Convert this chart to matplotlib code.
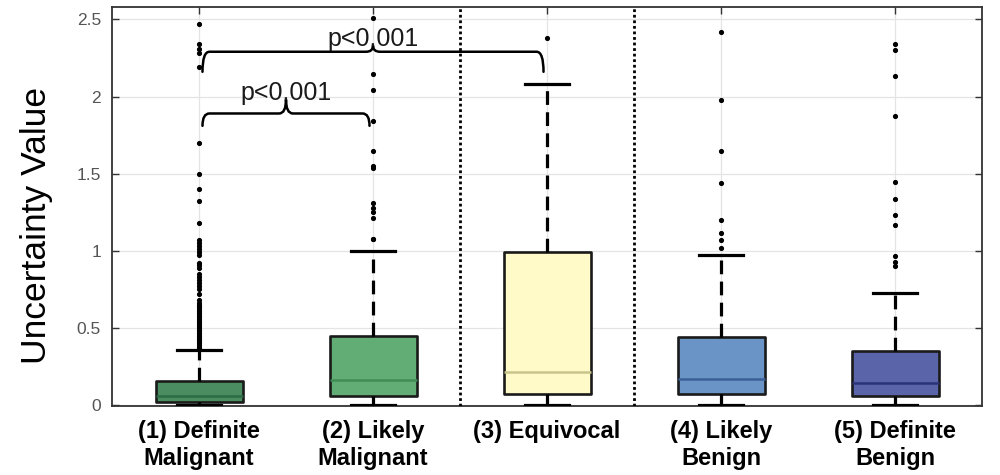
import matplotlib
matplotlib.use("Agg")
import matplotlib.pyplot as plt
from matplotlib.path import Path
from matplotlib.patches import PathPatch

# ---------------- data ----------------
categories = ["(1) Definite\nMalignant", "(2) Likely\nMalignant", "(3) Equivocal",
              "(4) Likely\nBenign", "(5) Definite\nBenign"]
q1_vals = [0.02, 0.06, 0.075, 0.075, 0.06]
median_vals = [0.06, 0.163, 0.218, 0.168, 0.142]
q3_vals = [0.155, 0.45, 0.99, 0.44, 0.352]
whisker_low = [0.0, 0.0, 0.0, 0.0, 0.0]
whisker_high = [0.36, 1.0, 2.08, 0.97, 0.725]
outliers_1 = [0.37, 0.38, 0.39, 0.40, 0.41, 0.42, 0.43, 0.44, 0.45, 0.46, 0.47, 0.48,
              0.49, 0.50, 0.51, 0.52, 0.53, 0.54, 0.55, 0.56, 0.57, 0.58, 0.59, 0.60,
              0.61, 0.62, 0.63, 0.64, 0.65, 0.66, 0.68, 0.72, 0.75, 0.77, 0.79, 0.81,
              0.83, 0.85, 0.89, 0.91, 0.92, 0.97, 0.99, 1.01, 1.03, 1.05, 1.07, 1.18,
              1.32, 1.40, 1.50, 1.70, 2.19, 2.28, 2.31, 2.34, 2.47]
outliers_2 = [1.075, 1.08, 1.21, 1.25, 1.28, 1.31, 1.535, 1.55, 1.65, 1.84, 2.045, 2.145, 2.51]
outliers_3 = [2.38]
outliers_4 = [1.02, 1.07, 1.115, 1.20, 1.44, 1.65, 1.98, 2.42]
outliers_5 = [0.90, 0.93, 0.965, 1.165, 1.234, 1.337, 1.445, 1.875, 2.13, 2.30, 2.34]
outliers = [outliers_1, outliers_2, outliers_3, outliers_4, outliers_5]

box_colors = ["#4b8c60", "#62ad76", "#fffac8", "#6a93c6", "#5a64a8"]
median_colors = ["#2c6b44", "#3f8c56", "#c9c48c", "#3c5f98", "#2a3478"]

# significance brackets: (start group, end group), level, p-label
bracket_pairs = [(1, 2), (1, 3)]
bracket_levels = [1.89, 2.29]
bracket_texts = ["p<0.001", "p<0.001"]

separators = [2.5, 3.5]
yticks = [0, 0.5, 1, 1.5, 2, 2.5]
ytick_labels = ["0", "0.5", "1", "1.5", "2", "2.5"]

# ---------------- figure ----------------
plt.rcParams['font.family'] = ['Liberation Sans', 'DejaVu Sans']
fig = plt.figure(figsize=(10, 4.75), dpi=100)
ax = fig.add_axes([0.112, 0.1453, 0.870, 0.840])

positions = list(range(1, len(categories) + 1))
stats = []
for i in range(len(categories)):
    stats.append(dict(med=median_vals[i], q1=q1_vals[i], q3=q3_vals[i],
                      whislo=whisker_low[i], whishi=whisker_high[i],
                      fliers=outliers[i], label=categories[i]))

bp = ax.bxp(stats, positions=positions, widths=0.5, capwidths=0.25,
            patch_artist=True, manage_ticks=False,
            boxprops=dict(linewidth=1.9, edgecolor="#1a1a1a", joinstyle="round"),
            whiskerprops=dict(linewidth=2.3, color="black", linestyle=(0, (4.3, 2.3))),
            capprops=dict(linewidth=2.3, color="black"),
            medianprops=dict(linewidth=1.8),
            flierprops=dict(marker='o', markersize=2.7, markerfacecolor='black',
                            markeredgecolor='black', linestyle='none'),
            zorder=3)
for patch, c in zip(bp['boxes'], box_colors):
    patch.set_facecolor(c)
for med, c in zip(bp['medians'], median_colors):
    med.set_color(c)

for s in separators:
    ax.axvline(s, color="black", linestyle=(0, (1, 1)), linewidth=2.0, zorder=4)

# braces
def brace(x1, x2, y, h_end=0.08, h_tip=0.08, dx=0.04):
    xm = (x1 + x2) / 2
    verts = [(x1, y - h_end), (x1, y), (x1 + dx, y),
             (xm - dx, y), (xm, y), (xm, y + h_tip),
             (xm, y), (xm + dx, y),
             (x2 - dx, y), (x2, y), (x2, y - h_end)]
    codes = [Path.MOVETO, Path.CURVE3, Path.CURVE3,
             Path.LINETO, Path.CURVE3, Path.CURVE3,
             Path.CURVE3, Path.CURVE3,
             Path.LINETO, Path.CURVE3, Path.CURVE3]
    ax.add_patch(PathPatch(Path(verts, codes), facecolor='none', edgecolor='black',
                           linewidth=1.8, zorder=5, capstyle='round'))
    return xm, y + h_tip

for (a, b), lvl, txt in zip(bracket_pairs, bracket_levels, bracket_texts):
    h_end = 0.08 if b - a == 1 else 0.13
    h_tip = 0.09 if b - a == 1 else 0.04
    xm, yt = brace(a + 0.02, b - 0.02, lvl, h_end=h_end, h_tip=h_tip)
    ax.text(xm, yt, txt, ha='center', va='baseline', fontsize=18, color='#1a1a1a', zorder=6)

ax.set_xlim(0.5, 5.5)
ax.set_ylim(-0.005, 2.58)
ax.set_xticks(positions)
ax.set_xticklabels(categories, fontsize=17, fontweight='bold', linespacing=1.25)
ax.set_yticks(yticks)
ax.set_yticklabels(ytick_labels, fontsize=12.5, color="#555555")
ax.tick_params(axis='both', direction='in', length=5, width=1, color="#333333",
               top=True, right=True)
ax.tick_params(axis='x', pad=10)
ax.tick_params(axis='y', pad=8)
ax.grid(True, color="#e4e4e4", linewidth=0.9)
ax.set_axisbelow(True)
for sp in ax.spines.values():
    sp.set_color("#333333")
    sp.set_linewidth(1.3)

fig.text(0.037, 1 - 225 / 475, "Uncertainty Value", rotation=90, ha='center', va='center',
         fontsize=25.5, color='black')

fig.savefig("out.png", dpi=100)
